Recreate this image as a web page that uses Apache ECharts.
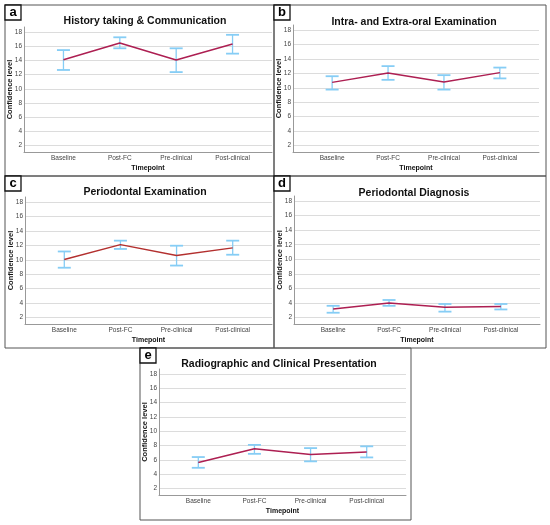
<!DOCTYPE html>
<html>
<head>
<meta charset="utf-8">
<script src="https://cdn.jsdelivr.net/npm/echarts@6.0.0/dist/echarts.min.js"></script>
<style>
  html, body { margin: 0; padding: 0; background: #fff; }
  #chart { width: 550px; height: 525px; }
</style>
</head>
<body>
<div id="chart"></div>
<script>
// 数据
const timepoints = ['Baseline', 'Post-FC', 'Pre-clinical', 'Post-clinical']
const yTicks = [2, 4, 6, 8, 10, 12, 14, 16, 18]
const panelLetters = ['a', 'b', 'c', 'd', 'e']
const panelTitles = [
  'History taking & Communication',
  'Intra- and Extra-oral Examination',
  'Periodontal Examination',
  'Periodontal Diagnosis',
  'Radiographic and Clinical Presentation',
]

// 均值与置信区间
const meanA = [14.1, 16.45, 14.05, 16.3]
const lowA = [12.65, 15.7, 12.35, 14.95]
const highA = [15.45, 17.25, 15.7, 17.6]

const meanB = [10.75, 12.05, 10.8, 12.1]
const lowB = [9.75, 11.1, 9.75, 11.3]
const highB = [11.6, 13.0, 11.75, 12.8]

const meanC = [10.05, 12.1, 10.6, 11.65]
const lowC = [8.9, 11.5, 9.2, 10.7]
const highC = [11.15, 12.65, 11.95, 12.65]

const meanD = [3.15, 4.0, 3.4, 3.5]
const lowD = [2.65, 3.6, 2.8, 3.1]
const highD = [3.6, 4.4, 3.85, 3.85]

const meanE = [5.65, 7.55, 6.75, 7.1]
const lowE = [4.9, 6.85, 5.8, 6.35]
const highE = [6.4, 8.1, 7.65, 7.9]

const means = [meanA, meanB, meanC, meanD, meanE]
const lows = [lowA, lowB, lowC, lowD, lowE]
const highs = [highA, highB, highC, highD, highE]

// 布局
const frames = [
  { x: 5, y: 5, w: 269, h: 171 },
  { x: 274, y: 5, w: 272, h: 171 },
  { x: 5, y: 176, w: 269, h: 172 },
  { x: 274, y: 176, w: 272, h: 172 },
  { x: 140, y: 348, w: 271, h: 172 },
]
const grids = [
  { left: 24, top: 27, width: 248, height: 125 },
  { left: 293, top: 25, width: 246, height: 127 },
  { left: 25, top: 197, width: 247, height: 127 },
  { left: 294, top: 196, width: 246, height: 128 },
  { left: 159, top: 369, width: 247, height: 126 },
]
const titlePos = [
  { x: 140, y: 18 },
  { x: 409, y: 19 },
  { x: 140, y: 189 },
  { x: 409, y: 190 },
  { x: 274, y: 361 },
]
const lineColors = ['#ad1f52', '#ad1f52', '#b3302f', '#ad1f52', '#ad1f52']
const barColor = '#86cdf5'
const fontFamily = '"Liberation Sans", Arial, sans-serif'

// 误差线
const errorBarItem = (params, api) => {
  const x = api.value(0)
  const pLo = api.coord([x, api.value(1)])
  const pHi = api.coord([x, api.value(2)])
  const w = 6.5
  return {
    type: 'group',
    children: [
      { type: 'line', shape: { x1: pLo[0], y1: pLo[1], x2: pHi[0], y2: pHi[1] }, style: { stroke: barColor, lineWidth: 1.3 } },
      { type: 'line', shape: { x1: pHi[0] - w, y1: pHi[1], x2: pHi[0] + w, y2: pHi[1] }, style: { stroke: barColor, lineWidth: 1.8 } },
      { type: 'line', shape: { x1: pLo[0] - w, y1: pLo[1], x2: pLo[0] + w, y2: pLo[1] }, style: { stroke: barColor, lineWidth: 1.8 } },
    ],
  }
}

const graphic = []
frames.forEach((f, i) => {
  graphic.push({
    type: 'rect',
    shape: { x: f.x, y: f.y, width: f.w, height: f.h },
    style: { fill: 'none', stroke: '#555', lineWidth: 1 },
    z: 1,
  })
  graphic.push({
    type: 'rect',
    shape: { x: f.x, y: f.y, width: 16, height: 15 },
    style: { fill: '#fff', stroke: '#111', lineWidth: 1.3 },
    z: 10,
  })
  graphic.push({
    type: 'text',
    x: f.x + 8,
    y: f.y + 7,
    style: {
      text: panelLetters[i],
      fill: '#000',
      font: 'bold 13px ' + fontFamily,
      align: 'center',
      verticalAlign: 'middle',
    },
    z: 11,
  })
})

const option = {
  animation: false,
  backgroundColor: '#fff',
  title: panelTitles.map((t, i) => ({
    text: t,
    left: titlePos[i].x,
    top: titlePos[i].y - 7,
    textAlign: 'center',
    textStyle: { fontFamily, fontSize: 10.5, fontWeight: 'bold', color: '#111' },
  })),
  grid: grids,
  xAxis: grids.map((g, i) => ({
    type: 'value',
    gridIndex: i,
    min: -0.7,
    max: 3.7,
    name: 'Timepoint',
    nameLocation: 'middle',
    nameGap: 13,
    nameMoveOverlap: false,
    nameTextStyle: { fontFamily, fontSize: 7, fontWeight: 'bold', color: '#111' },
    axisLine: { onZero: false, lineStyle: { color: '#999', width: 1 } },
    axisTick: { show: false, customValues: [0, 1, 2, 3] },
    splitLine: { show: false },
    axisLabel: {
      customValues: [0, 1, 2, 3],
      formatter: (v) => timepoints[Math.round(v)],
      fontFamily,
      fontSize: 6.5,
      color: '#444',
      margin: 3,
    },
  })),
  yAxis: grids.map((g, i) => ({
    type: 'value',
    gridIndex: i,
    min: 1.1,
    max: 18.7,
    name: 'Confidence level',
    nameLocation: 'middle',
    nameRotate: 90,
    nameGap: 10,
    nameMoveOverlap: false,
    nameTextStyle: { fontFamily, fontSize: 7.5, fontWeight: 'bold', color: '#111' },
    axisLine: { show: true, onZero: false, lineStyle: { color: '#999', width: 1 } },
    axisTick: { show: false, customValues: yTicks },
    splitLine: { show: true, lineStyle: { color: '#dcdcdc', width: 1 } },
    axisLabel: {
      customValues: yTicks,
      fontFamily,
      fontSize: 6.5,
      color: '#444',
      margin: 2,
    },
  })),
  graphic,
  series: [],
}

means.forEach((m, i) => {
  option.series.push({
    type: 'custom',
    xAxisIndex: i,
    yAxisIndex: i,
    renderItem: errorBarItem,
    encode: { x: 0, y: [1, 2] },
    data: m.map((_, k) => [k, lows[i][k], highs[i][k]]),
    z: 3,
  })
  option.series.push({
    type: 'line',
    xAxisIndex: i,
    yAxisIndex: i,
    data: m.map((v, k) => [k, v]),
    showSymbol: false,
    lineStyle: { color: lineColors[i], width: 1.5 },
    z: 4,
  })
})

const chart = echarts.init(document.getElementById('chart'))
chart.setOption(option)
</script>
</body>
</html>
